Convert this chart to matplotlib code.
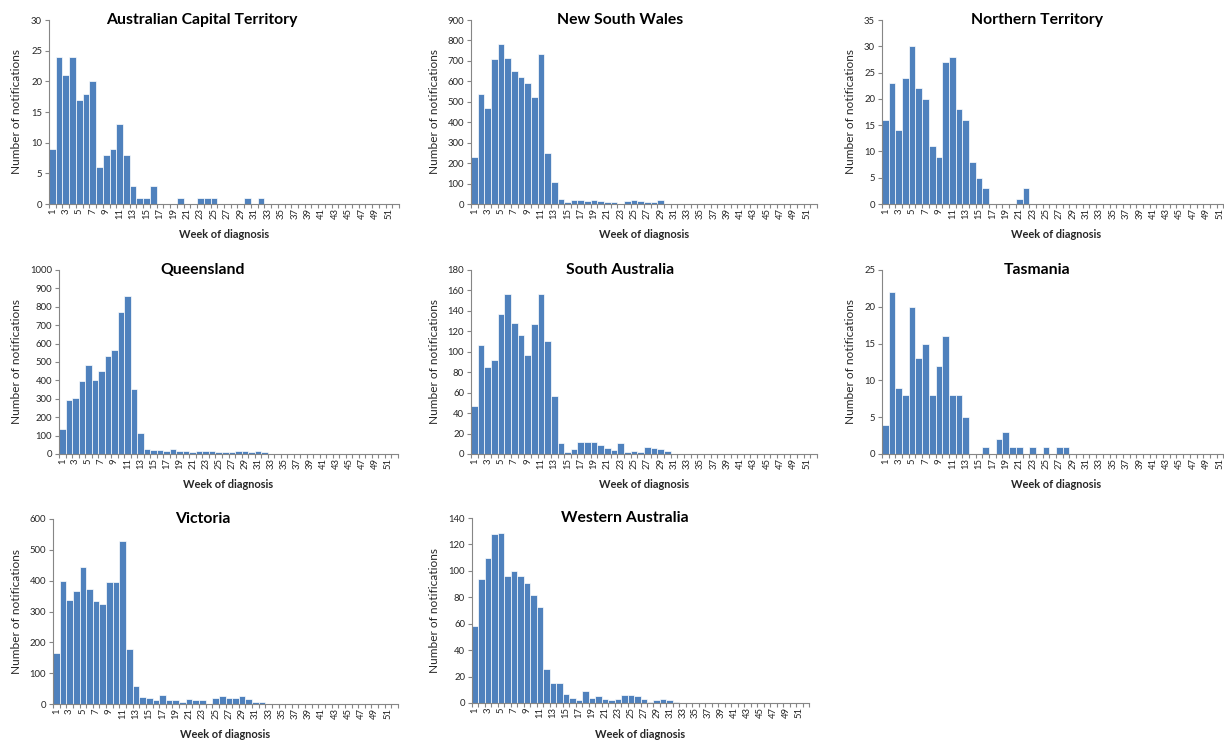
import numpy as np
import matplotlib
matplotlib.use("Agg")
import matplotlib.pyplot as plt

plt.rcParams['font.family'] = ['Lato', 'DejaVu Sans']

weeks = list(range(1, 53))

act = [9, 24, 21, 24, 17, 18, 20, 6, 8, 9, 13, 8, 3, 1, 1, 3, 0, 0, 0, 1,
       0, 0, 1, 1, 1, 0, 0, 0, 0, 1, 0, 1, 0, 0, 0, 0, 0, 0, 0, 0,
       0, 0, 0, 0, 0, 0, 0, 0, 0, 0, 0, 0]
nsw = [228, 538, 471, 709, 782, 714, 652, 620, 590, 522, 736, 248, 107, 24, 9, 18, 18, 13, 18, 13,
       8, 8, 2, 13, 18, 13, 8, 8, 18, 0, 0, 0, 0, 0, 0, 0, 0, 0, 0, 0,
       0, 0, 0, 0, 0, 0, 0, 0, 0, 0, 0, 0]
nt = [16, 23, 14, 24, 30, 22, 20, 11, 9, 27, 28, 18, 16, 8, 5, 3, 0, 0, 0, 0,
      1, 3, 0, 0, 0, 0, 0, 0, 0, 0, 0, 0, 0, 0, 0, 0, 0, 0, 0, 0,
      0, 0, 0, 0, 0, 0, 0, 0, 0, 0, 0, 0]
qld = [137, 293, 304, 398, 485, 403, 450, 532, 564, 774, 861, 353, 114, 29, 23, 23, 16, 29, 16, 16,
       11, 16, 16, 16, 11, 11, 11, 16, 16, 11, 16, 11, 0, 0, 0, 0, 0, 0, 0, 0,
       0, 0, 0, 0, 0, 0, 0, 0, 0, 0, 0, 0]
sa = [47, 107, 85, 92, 137, 157, 128, 116, 97, 127, 157, 111, 57, 11, 2, 5, 12, 12, 12, 9,
      6, 4, 11, 2, 3, 2, 7, 6, 5, 3, 0, 0, 0, 0, 0, 0, 0, 0, 0, 0,
      0, 0, 0, 0, 0, 0, 0, 0, 0, 0, 0, 0]
tas = [4, 22, 9, 8, 20, 13, 15, 8, 12, 16, 8, 8, 5, 0, 0, 1, 0, 2, 3, 1,
       1, 0, 1, 0, 1, 0, 1, 1, 0, 0, 0, 0, 0, 0, 0, 0, 0, 0, 0, 0,
       0, 0, 0, 0, 0, 0, 0, 0, 0, 0, 0, 0]
vic = [165, 400, 337, 366, 443, 372, 334, 324, 397, 397, 529, 178, 60, 23, 20, 12, 29, 12, 12, 8,
       15, 12, 12, 0, 18, 26, 18, 18, 26, 15, 5, 8, 0, 0, 0, 0, 0, 0, 0, 0,
       0, 0, 0, 0, 0, 0, 0, 0, 0, 0, 0, 0]
wa = [58, 94, 110, 128, 129, 96, 100, 96, 91, 82, 73, 26, 15, 15, 7, 4, 2, 9, 4, 5,
      3, 2, 3, 6, 6, 5, 3, 1, 2, 3, 2, 1, 0, 0, 0, 0, 0, 0, 0, 0,
      0, 0, 0, 0, 0, 0, 0, 0, 0, 0, 0, 0]

W, H = 1224, 740
fig = plt.figure(figsize=(W / 100, H / 100), dpi=100)

# (title, data, ymax, ystep, left, right, top, bottom, title_x, ylabel_x, xlabel_y)
panels = [
    ("Australian Capital Territory", act, 30, 5, 49, 399, 20, 204, 202, 17, 235),
    ("New South Wales", nsw, 900, 100, 471, 817, 20, 204, 620, 434, 235),
    ("Northern Territory", nt, 35, 5, 882, 1230, 20, 204, 1037, 851, 235),
    ("Queensland", qld, 1000, 100, 59, 398, 270, 454, 203, 17, 484),
    ("South Australia", sa, 180, 20, 471, 817, 270, 454, 620, 434, 484),
    ("Tasmania", tas, 25, 5, 882, 1230, 270, 454, 1037, 850, 484),
    ("Victoria", vic, 600, 100, 53, 398, 519, 704, 203, 17, 734),
    ("Western Australia", wa, 140, 20, 472, 809, 518, 703, 625, 434, 735),
]

axis_col = '#868686'
txt_col = '#262626'

for title, data, ymax, ystep, l, r, t, b, tx, ylx, xly in panels:
    ax = fig.add_axes([l / W, 1 - b / H, (r - l) / W, (b - t) / H])
    ax.bar(weeks, data, width=1.0, color='#4F81BD', edgecolor='white', linewidth=0.5)
    ax.set_xlim(0.5, 52.5)
    ax.set_ylim(0, ymax)
    ax.set_yticks(np.arange(0, ymax + 1, ystep))
    ax.set_xticks(weeks[::2])
    ax.set_xticklabels([str(w) for w in weeks[::2]], rotation=90)
    ax.set_xticks(np.arange(0.5, 53, 1), minor=True)
    ax.tick_params(axis='x', which='major', length=0, labelsize=6.8, colors=txt_col, pad=3)
    ax.tick_params(axis='x', which='minor', length=3, width=0.8, color=axis_col)
    ax.tick_params(axis='y', length=3, width=0.8, color=axis_col, labelsize=6.8,
                   labelcolor=txt_col, pad=2)
    for s in ['top', 'right']:
        ax.spines[s].set_visible(False)
    for s in ['left', 'bottom']:
        ax.spines[s].set_color(axis_col)
        ax.spines[s].set_linewidth(0.8)
    ax.patch.set_alpha(0)

    fig.text(tx / W, 1 - t / H, title, ha='center', va='center',
             fontsize=11.3, fontweight='bold', color='black')
    fig.text(ylx / W, 1 - (t + b) / 2 / H, "Number of notifications", rotation=90,
             ha='center', va='center', fontsize=8.6, color=txt_col)
    fig.text((l + r) / 2 / W, 1 - xly / H, "Week of diagnosis", ha='center', va='center',
             fontsize=7.9, fontweight='bold', color=txt_col)

fig.savefig("out.png", dpi=100)
